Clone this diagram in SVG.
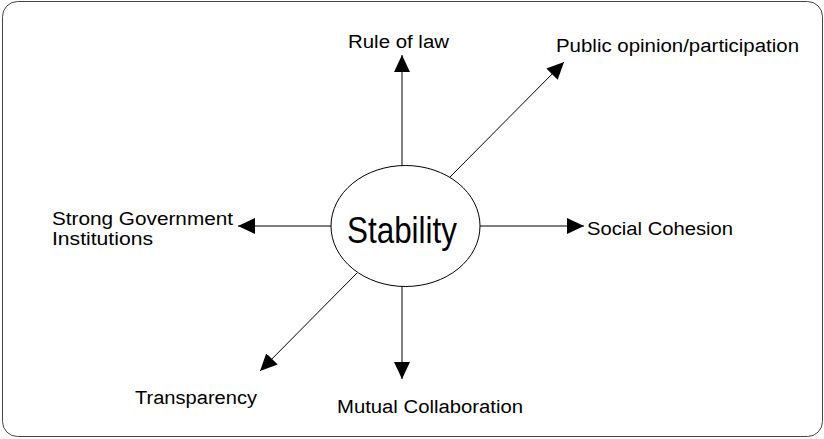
<svg xmlns="http://www.w3.org/2000/svg" width="824" height="439" viewBox="0 0 824 439">
<style>
.lbl{font-family:"Liberation Sans",Arial,sans-serif;font-size:18px;fill:#000}
.conn line{stroke:#000;stroke-width:1;fill:none}
</style>
<defs>
<marker id="ah" markerUnits="userSpaceOnUse" markerWidth="18" markerHeight="16" refX="17" refY="8" orient="auto">
<path d="M0,0 L17,8 L0,16 Z" fill="#000"/>
</marker>
</defs>
<rect x="2.5" y="1.5" width="820" height="435" rx="15" ry="15" fill="#fff" stroke="#444" stroke-width="1"/>
<g class="conn" id="connectors">
<line x1="402" y1="166" x2="402" y2="55" marker-end="url(#ah)"/>
<line x1="450" y1="177" x2="564" y2="62" marker-end="url(#ah)"/>
<line x1="331" y1="226" x2="238" y2="226" marker-end="url(#ah)"/>
<line x1="480" y1="226" x2="584" y2="226" marker-end="url(#ah)"/>
<line x1="357" y1="273" x2="260" y2="371" marker-end="url(#ah)"/>
<line x1="402" y1="286" x2="402" y2="379" marker-end="url(#ah)"/>
</g>
<g id="stability">
<ellipse cx="405.5" cy="226" rx="74.5" ry="60.5" fill="#fff" stroke="#000" stroke-width="1"/>
<text x="347" y="243" style="font-family:'Liberation Sans',Arial,sans-serif;font-size:37px" textLength="110" lengthAdjust="spacingAndGlyphs">Stability</text>
</g>
<g id="rule-of-law"><text class="lbl" x="348" y="48" textLength="101" lengthAdjust="spacingAndGlyphs">Rule of law</text></g>
<g id="public-opinion"><text class="lbl" x="556" y="52" textLength="243" lengthAdjust="spacingAndGlyphs">Public opinion/participation</text></g>
<g id="strong-government"><text class="lbl" x="52" y="225" textLength="181" lengthAdjust="spacingAndGlyphs">Strong Government</text><text class="lbl" x="52" y="245" textLength="101" lengthAdjust="spacingAndGlyphs">Institutions</text></g>
<g id="social-cohesion"><text class="lbl" x="587" y="235" textLength="146" lengthAdjust="spacingAndGlyphs">Social Cohesion</text></g>
<g id="transparency"><text class="lbl" x="135" y="404" textLength="122" lengthAdjust="spacingAndGlyphs">Transparency</text></g>
<g id="mutual-collaboration"><text class="lbl" x="337" y="413" textLength="186" lengthAdjust="spacingAndGlyphs">Mutual Collaboration</text></g>
</svg>
